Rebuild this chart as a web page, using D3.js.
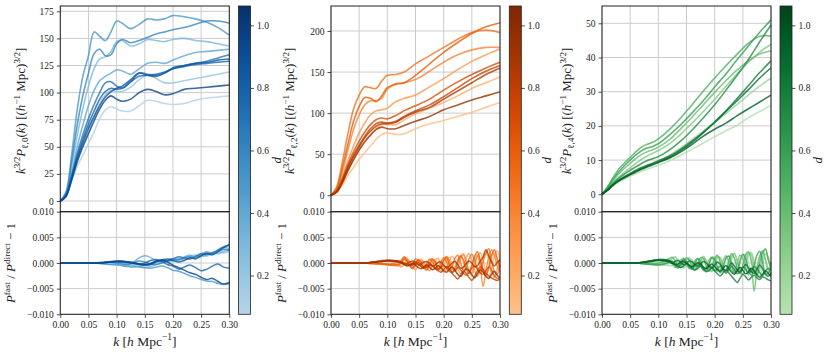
<!DOCTYPE html>
<html>
<head>
<meta charset="utf-8">
<script src="https://cdn.jsdelivr.net/npm/d3@7"></script>
<style>
  body { margin: 0; background: #fff; }
  svg { display: block; }
  text { font-family: "Liberation Serif", "DejaVu Serif", serif; fill: #222; white-space: pre; }
</style>
</head>
<body>
<script>
// ---- data ----
const dVals = [0.1, 0.2, 0.3, 0.4, 0.5, 0.6, 0.7, 0.78, 0.86, 0.95];
const cbDomain = [0.076, 1.062];
const cbTicks = [0.2, 0.4, 0.6, 0.8, 1.0];
const kTicks = [0, 0.05, 0.10, 0.15, 0.20, 0.25, 0.30];
const resTicks = [-0.010, -0.005, 0, 0.005, 0.010];

// monopole
const kTop1 = [0, .01, .02, .03, .04, .05, .06, .07, .08, .09, .10, .11, .125, .14, .155, .17, .185, .20, .22, .24, .26, .28, .30];
const top1 = [
  [0, 4, 18, 32, 42, 53, 64, 76, 84, 87, 85, 83, 83, 88, 93, 92, 90, 89, 90, 93, 95, 96, 97],
  [0, 5, 21, 38, 52, 65, 78, 90, 98, 102, 101, 101, 105, 112, 116, 113, 109, 109, 111, 113, 115, 117, 119],
  [0, 7, 32, 60, 85, 106, 122, 131, 133, 138, 147, 148, 143, 145, 149, 148, 147, 149, 150, 148, 147, 145, 143],
  [0, 6, 26, 50, 70, 88, 102, 111, 115, 118, 121, 120, 117, 122, 127, 128, 127, 130, 134, 137, 138, 139, 140],
  [0, 8, 42, 84, 115, 134, 156, 152, 148, 156, 166, 164, 159, 163, 168, 167, 168, 171, 170, 168, 165, 160, 153],
  [0, 7, 36, 70, 97, 118, 136, 140, 134, 135, 145, 149, 146, 148, 151, 154, 156, 158, 160, 163, 166, 166, 164],
  [0, 5, 23, 44, 61, 76, 89, 100, 109, 110, 106, 104, 110, 118, 117, 116, 118, 122, 125, 127, 129, 132, 135],
  [0, 5, 22, 41, 57, 71, 83, 94, 101, 104, 103, 104, 110, 115, 116, 117, 119, 122, 124, 126, 127, 128, 129],
  [0, 5, 21, 39, 54, 67, 78, 88, 96, 101, 104, 106, 112, 118, 116, 115, 118, 123, 125, 127, 128, 130, 131],
  [0, 4, 19, 36, 50, 62, 74, 85, 93, 97, 94, 92, 94, 100, 103, 101, 98, 99, 103, 104, 105, 106, 107]
];
const yTicks1 = [0, 25, 50, 75, 100, 125, 150, 175];

// quadrupole
const kTop2 = [0, .01, .02, .03, .04, .05, .06, .07, .08, .09, .10, .115, .13, .15, .175, .20, .225, .25, .275, .30];
const top2 = [
  [0, 3, 12, 24, 34, 44, 52, 60, 68, 74, 76, 74, 75, 81, 87, 91, 96, 101, 107, 113],
  [0, 4, 15, 30, 44, 56, 66, 74, 81, 86, 86, 86, 92, 99, 106, 113, 121, 130, 137, 144],
  [0, 6, 22, 42, 60, 76, 88, 98, 103, 104, 106, 114, 118, 122, 132, 142, 153, 163, 171, 178],
  [0, 7, 28, 55, 80, 98, 110, 115, 115, 118, 129, 136, 137, 141, 151, 162, 171, 177, 180, 180],
  [0, 10, 40, 75, 105, 122, 132, 131, 130, 139, 146, 147, 150, 160, 170, 180, 190, 198, 201, 198],
  [0, 8, 33, 62, 90, 108, 119, 118, 114, 121, 131, 135, 137, 146, 160, 174, 186, 197, 205, 210],
  [0, 5, 20, 38, 53, 66, 77, 86, 92, 94, 93, 97, 103, 109, 117, 128, 138, 147, 155, 162],
  [0, 5, 18, 35, 49, 61, 72, 81, 87, 89, 88, 90, 96, 103, 110, 120, 131, 142, 151, 158],
  [0, 4, 17, 33, 47, 59, 70, 78, 84, 87, 87, 89, 95, 101, 107, 117, 127, 137, 147, 155],
  [0, 4, 15, 30, 43, 55, 65, 73, 80, 83, 81, 81, 85, 90, 96, 104, 110, 116, 121, 126]
];
const yTicks2 = [0, 50, 100, 150, 200];

// hexadecapole
const kTop3 = [0, .01, .02, .03, .04, .05, .06, .07, .08, .09, .10, .12, .14, .16, .18, .20, .22, .24, .26, .28, .30];
const top3 = [
  [0, 1.2, 2.5, 3.6, 4.5, 5.3, 6.0, 6.7, 7.3, 7.9, 8.5, 9.8, 11.4, 13.2, 15.0, 16.8, 18.6, 20.2, 22.4, 24.2, 26.0],
  [0, 1.3, 2.8, 4.0, 5.0, 5.9, 6.8, 7.6, 8.3, 9.0, 9.7, 11.4, 13.6, 16.0, 18.5, 21.0, 23.6, 26.3, 29.0, 31.6, 34.0],
  [0, 1.6, 3.4, 5.0, 6.4, 7.7, 9.0, 10.2, 11.2, 12.0, 12.8, 14.8, 17.6, 20.8, 24.2, 27.8, 31.5, 35.2, 38.6, 41.6, 43.8],
  [0, 1.8, 4.0, 6.0, 7.6, 9.0, 10.4, 11.6, 12.4, 13.0, 13.8, 16.0, 19.2, 22.6, 26.2, 29.8, 33.2, 36.4, 39.0, 41.0, 42.0],
  [0, 2.2, 5.0, 7.4, 9.2, 10.8, 12.4, 13.8, 14.6, 15.2, 16.2, 19.0, 22.4, 26.2, 30.2, 34.0, 37.6, 41.0, 44.2, 46.2, 46.3],
  [0, 2.0, 4.5, 6.6, 8.4, 10.0, 11.5, 12.7, 13.5, 14.0, 14.8, 17.4, 20.4, 23.8, 27.4, 31.4, 35.2, 39.4, 43.4, 47.4, 51.0],
  [0, 1.5, 3.2, 4.7, 5.9, 7.0, 8.0, 9.0, 9.8, 10.4, 11.0, 13.0, 15.6, 18.8, 22.4, 26.2, 30.4, 34.8, 39.4, 44.6, 49.5],
  [0, 1.3, 2.9, 4.2, 5.2, 6.1, 7.0, 7.8, 8.5, 9.1, 9.8, 11.2, 13.2, 15.6, 18.2, 21.2, 24.4, 28.0, 31.8, 35.6, 39.0],
  [0, 1.2, 2.8, 4.0, 5.0, 5.9, 6.7, 7.5, 8.2, 8.8, 9.4, 10.8, 12.8, 15.2, 18.0, 21.0, 24.2, 27.4, 30.6, 34.0, 37.0],
  [0, 1.2, 2.7, 3.9, 4.8, 5.7, 6.5, 7.3, 8.0, 8.6, 9.3, 10.6, 12.4, 14.6, 17.0, 19.0, 20.8, 23.0, 25.0, 27.0, 29.0]
];
const yTicks3 = [0, 10, 20, 30, 40, 50];

// residuals, in units of 1e-3
const kRes1 = [0, .01, .02, .03, .04, .05, .06, .07, .08, .09, .10, .11, .12, .13, .14, .15, .16, .17, .18, .19, .20, .21, .22, .23, .24, .25, .26, .27, .28, .29, .30];
const res1 = [
  [0, 0, 0, 0, 0, 0, 0, 0.1, 0.2, 0.3, 0.3, 0.2, 0, -0.2, -0.3, -0.2, 0, 0.3, 0.5, 0.6, 0.9, 1.1, 1.0, 1.4, 1.6, 1.5, 1.9, 2.1, 2.0, 2.4, 2.6],
  [0, 0, 0, 0, 0, 0, 0, 0, 0.1, 0.1, 0, -0.2, -0.4, -0.5, -0.6, -0.5, -0.3, -0.1, 0.2, 0.4, 0.3, 0.6, 0.9, 0.8, 1.2, 1.5, 1.3, 1.8, 2.2, 2.0, 2.3],
  [0, 0, 0, 0, 0, 0, 0, -0.1, -0.2, -0.3, -0.4, -0.5, -0.6, -0.6, -0.8, -0.9, -0.7, -0.3, 0.1, 0.3, 0.6, 0.9, 0.7, 1.1, 1.4, 1.2, 1.6, 2.0, 1.8, 2.2, 2.6],
  [0, 0, 0, 0, 0, 0, 0, 0, 0.1, 0.2, 0.2, 0.1, -0.1, 0.2, 1.0, 1.4, 1.1, 0.4, 0.2, 0.6, 0.9, 0.7, 1.2, 1.5, 1.2, 1.8, 2.2, 1.9, 2.6, 3.0, 2.8],
  [0, 0, 0, 0, 0, 0, 0, -0.1, -0.2, -0.3, -0.3, -0.5, -0.7, -0.8, -0.7, -0.9, -1.0, -0.8, -0.6, -0.9, -1.4, -1.6, -2.0, -2.5, -2.8, -3.2, -3.5, -3.6, -4.0, -4.2, -4.0],
  [0, 0, 0, 0, 0, 0, 0, 0, 0.1, 0.1, 0, -0.2, -0.3, 0, 0.4, 0.2, -0.2, -0.3, 0, 0.4, 0.7, 0.6, 1.0, 1.2, 1.0, 1.5, 1.9, 1.7, 2.3, 2.7, 2.5],
  [0, 0, 0, 0, 0, 0, 0, 0.1, 0.2, 0.3, 0.4, 0.4, 0.2, -0.1, -0.3, -0.4, -0.2, 0.3, 0.5, 0.4, 0.8, 1.2, 1.0, 0.8, 1.3, 1.8, 1.6, 2.0, 2.5, 3.2, 3.4],
  [0, 0, 0, 0, 0, 0, 0, 0, 0.1, 0.2, 0.3, 0.2, 0.1, -0.1, -0.2, 0, 0.5, 0.7, 0.3, -0.3, -0.6, -1.2, -0.8, -0.4, -0.9, -1.5, -1.2, -0.6, -0.2, -0.8, -1.0],
  [0, 0, 0, 0, 0, 0, 0, 0, 0.1, 0.2, 0.3, 0.3, 0.2, 0.1, -0.2, -0.4, -0.3, 0.2, 0.6, 0.8, 0.5, 0.2, 0.5, 1.0, 0.8, 1.4, 1.9, 1.6, 2.2, 3.0, 3.6],
  [0, 0, 0, 0, 0, 0, 0, 0, 0.1, 0.2, 0.3, 0.3, 0.2, 0, -0.2, -0.3, -0.1, 0.4, 0.6, 0.2, -0.4, -0.9, -1.4, -1.9, -2.2, -2.8, -3.2, -3.0, -3.6, -4.1, -3.8]
];

const kRes23 = [0, .01, .02, .03, .04, .05, .06, .07, .08, .09, .10, .11, .12,
  .125, .13, .135, .14, .145, .15, .155, .16, .165, .17, .175, .18, .185, .19, .195, .20,
  .205, .21, .215, .22, .225, .23, .235, .24, .245, .25, .255, .26, .265, .27, .275, .28, .285, .29, .295, .30];
const res2 = [
  [0, 0, 0, 0, 0, 0, 0, -0.1, -0.1, -0.2, -0.3, -0.3, -0.4,
   -0.2, 0.5, 0.9, 0.2, -0.6, -0.2, 0.6, 0.3, -0.5, -1.0, -0.3, 0.4, -0.2, -1.1, -0.6, 0.3, 0.8, -0.1, -1.2, -0.8, 0.5, 1.2, 0.2, -1.3, -1.8, -0.4, 0.9, 1.6, 0.3, -1.5, -2.2, -0.8, 1.0, 1.8, 0.2, -1.2],
  [0, 0, 0, 0, 0, 0, 0, -0.1, -0.2, -0.3, -0.4, -0.5, -0.6,
   -0.4, 0.6, 1.0, 0.1, -0.9, -0.6, 0.4, 0.8, -0.2, -1.2, -0.9, 0.3, 0.6, -0.5, -1.6, -0.8, 0.7, 1.1, -0.2, -1.5, -1.0, 0.8, 1.5, 0.2, -1.7, -2.4, -0.6, 1.2, 2.0, 0.4, -1.9, -3.0, -1.0, 1.3, 2.4, 0.6],
  [0, 0, 0, 0, 0, 0, 0, -0.1, -0.2, -0.2, -0.3, -0.4, -0.5,
   -0.8, -0.3, 0.7, 0.3, -0.7, -1.3, -0.5, 0.5, 0.2, -0.9, -1.5, -0.6, 0.6, 0.9, -0.4, -1.8, -1.2, 0.4, 1.3, 0.5, -1.1, -2.1, -0.9, 1.0, 1.9, 0.4, -1.6, -2.6, -1.0, 1.1, 2.2, 0.8, -1.5, -2.8, -1.2, 0.6],
  [0, 0, 0, 0, 0, 0, 0, 0, -0.1, -0.2, -0.3, -0.3, -0.2,
   0.3, 1.1, 0.6, -0.4, -0.9, 0.1, 0.7, 0.2, -0.8, -0.5, 0.5, 0.9, 0.1, -1.0, -0.7, 0.6, 1.3, 0.4, -0.9, -1.6, -0.3, 1.2, 1.8, 0.3, -1.4, -1.9, -0.2, 1.5, -0.8, -4.6, -1.6, 1.2, 2.6, 1.4, -0.6, -1.8],
  [0, 0, 0, 0, 0, 0, 0, 0, -0.1, -0.1, -0.2, -0.1, 0.2,
   0.6, 1.2, 0.4, -0.5, -0.2, 0.8, 0.4, -0.6, -1.0, -0.1, 0.8, 0.3, -0.9, -1.3, 0.1, 1.0, 0.2, -1.1, -0.6, 0.9, 1.5, 0.1, -1.4, -0.9, 0.8, 1.7, 0.5, -1.2, -2.0, 0.2, 1.9, 2.8, 0.4, -1.6, -2.2, -0.3],
  [0, 0, 0, 0, 0, 0, 0, -0.1, -0.1, -0.2, -0.3, -0.4, -0.3,
   0.1, 0.9, 0.3, -0.6, -1.1, -0.2, 0.6, 0.1, -1.0, -1.4, -0.3, 0.7, 0.2, -1.2, -0.8, 0.5, 1.1, -0.3, -1.7, -1.1, 0.4, 1.4, 0.6, -1.2, -2.0, -0.5, 1.3, 2.2, 0.5, -1.4, -2.5, -0.9, 1.5, 2.6, 0.9, -0.8],
  [0, 0, 0, 0, 0, 0, 0, 0.1, 0.3, 0.5, 0.6, 0.5, 0.3,
   0.1, -0.2, -0.4, -0.3, 0.0, 0.2, 0.1, -0.4, -0.8, -0.6, -0.2, -0.5, -1.0, -1.3, -0.9, -0.5, -1.0, -1.6, -1.9, -1.4, -0.9, -1.3, -2.0, -2.4, -1.8, -1.0, -0.6, -1.2, -1.9, -2.2, -1.5, -0.8, -1.4, -2.4, -3.0, -2.8],
  [0, 0, 0, 0, 0, 0, 0, 0.1, 0.2, 0.4, 0.5, 0.5, 0.4,
   0.2, 0.0, -0.3, -0.5, -0.4, -0.1, -0.3, -0.7, -1.0, -0.8, -0.4, -0.6, -1.1, -1.5, -1.8, -1.3, -0.7, -1.2, -2.0, -2.6, -3.1, -2.4, -1.6, -2.0, -2.8, -3.4, -2.6, -1.5, -0.8, -1.2, -2.0, -2.5, -2.9, -3.2, -3.4, -3.1],
  [0, 0, 0, 0, 0, 0, 0, 0.1, 0.2, 0.3, 0.4, 0.3, 0.2,
   0.0, -0.2, -0.1, 0.2, 0.4, 0.1, -0.3, -0.2, 0.2, 0.3, -0.1, -0.6, -0.4, 0.1, 0.2, -0.4, -0.9, -0.6, 0.0, 0.3, -0.3, -1.0, -0.8, -0.1, 0.4, 0.0, -0.7, -0.5, 0.4, 1.2, 2.6, 1.4, 0.2, -0.6, 0.1, 0.6],
  [0, 0, 0, 0, 0, 0, 0, 0.1, 0.2, 0.3, 0.4, 0.4, 0.3,
   0.1, -0.3, -0.6, -0.4, -0.1, -0.4, -0.9, -1.1, -0.7, -0.4, -0.8, -1.3, -1.0, -0.5, -0.9, -1.5, -1.8, -1.2, -0.8, -1.4, -2.2, -2.6, -1.9, -1.1, -1.5, -2.3, -2.9, -2.1, -1.3, -1.8, -2.6, -3.0, -2.2, -1.6, -2.4, -2.9]
];
const res3 = [
  [0, 0, 0, 0, 0, 0, 0, -0.1, -0.2, -0.2, -0.3, -0.3, -0.1,
   0.4, -0.3, -0.9, -0.2, 0.7, 0.4, -0.6, -1.1, -0.2, 0.8, 0.5, -0.7, -1.4, -0.4, 0.9, 1.2, -0.1, -1.5, -1.0, 0.6, 1.4, 0.3, -1.3, -2.0, -0.4, 1.3, 1.8, 0.2, -1.7, -2.4, -0.6, 1.4, 2.0, 0.3, -1.6, -0.9],
  [0, 0, 0, 0, 0, 0, 0, -0.1, -0.2, -0.3, -0.4, -0.4, -0.5,
   -0.5, 0.4, 0.8, -0.1, -1.0, -0.4, 0.7, 0.6, -0.6, -1.3, -0.3, 0.8, 0.5, -0.9, -1.7, -0.4, 1.0, 1.1, -0.6, -1.9, -1.2, 0.7, 1.7, 0.5, -1.4, -2.3, -0.6, 1.5, 2.1, 0.2, -2.0, -2.6, -0.3, 1.8, 1.2, -0.4],
  [0, 0, 0, 0, 0, 0, 0, 0, -0.1, -0.2, -0.2, 0.1, 0.5,
   0.9, 1.2, 0.2, -0.8, -0.5, 0.6, 1.0, -0.1, -1.2, -0.9, 0.4, 1.3, 0.4, -1.1, -1.5, -0.1, 1.2, 0.8, -0.8, -2.0, -0.6, 1.3, 1.9, 0.3, -1.6, -2.2, 0.0, 1.9, 1.6, -0.7, -2.4, -1.3, 1.2, 2.7, 1.0, -1.1],
  [0, 0, 0, 0, 0, 0, 0, -0.1, -0.2, -0.3, -0.3, -0.2, 0.1,
   -0.2, -0.9, -0.4, 0.6, 0.9, -0.2, -1.1, -0.6, 0.5, 0.8, -0.4, -1.5, -0.9, 0.6, 1.1, -0.1, -1.6, -1.3, 0.5, 1.4, 0.2, -1.5, -2.1, -0.2, 1.5, 1.0, -0.9, -2.3, -1.0, -5.5, -1.4, 1.3, 2.4, 0.8, -1.2, -2.0],
  [0, 0, 0, 0, 0, 0, 0, 0, -0.1, -0.1, 0, 0.4, 0.9,
   1.1, 0.3, -0.6, -0.9, 0.2, 1.0, 0.5, -0.8, -1.3, -0.2, 1.0, 0.9, -0.6, -1.6, -0.8, 0.9, 1.5, 0.1, -1.6, -1.4, 0.5, 1.8, 0.9, -1.0, -2.1, -0.5, 1.6, 2.2, 0.4, -1.8, -2.3, 0.1, 2.0, 2.8, 0.6, -1.0],
  [0, 0, 0, 0, 0, 0, 0, -0.1, -0.2, -0.3, -0.4, -0.2, 0.2,
   0.3, -0.5, -1.0, 0.1, 0.8, 0.2, -0.9, -1.2, 0.0, 0.9, 0.3, -1.1, -1.6, -0.2, 1.1, 0.7, -0.9, -1.9, -0.8, 1.0, 1.3, -0.3, -1.8, -1.5, 0.4, 1.7, 0.8, -1.3, -2.4, -0.6, 1.5, 2.3, 0.2, -1.9, -2.1, 0.2],
  [0, 0, 0, 0, 0, 0, 0, 0.1, 0.2, 0.4, 0.6, 0.6, 0.4,
   0.0, -0.4, -0.7, -0.3, 0.2, 0.0, -0.6, -1.0, -0.6, -0.1, -0.5, -1.2, -1.0, -0.4, -0.9, -1.5, -1.1, -0.6, -1.2, -1.9, -1.4, -0.7, -1.3, -2.1, -1.6, -0.8, -1.2, -2.0, -1.5, -0.7, -1.1, -1.9, -2.4, -1.6, -1.0, -1.4],
  [0, 0, 0, 0, 0, 0, 0, 0.1, 0.3, 0.5, 0.7, 0.7, 0.5,
   0.2, -0.2, -0.6, -0.9, -0.6, -0.2, -0.5, -1.1, -1.4, -1.0, -0.6, -1.2, -1.7, -1.4, -0.9, -1.5, -2.1, -2.5, -1.9, -1.3, -1.9, -2.6, -3.2, -3.8, -3.0, -2.2, -2.7, -3.3, -2.8, -2.4, -2.9, -3.2, -2.7, -2.9, -3.3, -3.5],
  [0, 0, 0, 0, 0, 0, 0, 0.1, 0.2, 0.3, 0.5, 0.4, 0.2,
   -0.1, 0.3, 0.5, 0.1, -0.3, 0.0, 0.4, 0.2, -0.3, -0.6, -0.2, 0.3, 0.0, -0.6, -1.0, -0.4, 0.2, -0.3, -1.1, -1.5, -0.8, 0.0, -0.6, -1.4, -1.8, -1.0, -0.3, -0.9, -1.7, -2.0, -1.2, -0.4, -1.1, -2.2, -2.6, -2.0],
  [0, 0, 0, 0, 0, 0, 0, 0.1, 0.3, 0.5, 0.6, 0.5, 0.3,
   0.0, -0.3, -0.2, 0.2, 0.4, 0.0, -0.4, -0.7, -0.3, 0.1, -0.2, -0.8, -1.1, -0.6, -0.2, -0.7, -1.3, -1.6, -1.0, -0.5, -1.1, -1.8, -2.2, -1.5, -0.9, -1.4, -2.1, -1.7, -1.0, -1.5, -2.3, -2.8, -2.2, -1.5, -2.0, -2.6]
];

// ---- layout ----
const W = 831, H = 355;
const rowTop = [6, 211.7], rowBot = [211.7, 314.3];
const axW = 169, cbW = 12;

const panels = [
  {left: 60.3, cbx: 238.5, kTop: kTop1, top: top1, yDom: [-9.87, 179.9], yTicks: yTicks1, ell: "0",
   kRes: kRes1, res: res1, interp: d3.interpolateBlues, ylabDx: -35, rlabDx: -45},
  {left: 331, cbx: 509.3, kTop: kTop2, top: top2, yDom: [-20, 230.4], yTicks: yTicks2, ell: "2",
   kRes: kRes23, res: res2, interp: d3.interpolateOranges, ylabDx: -37, rlabDx: -45},
  {left: 602, cbx: 780, kTop: kTop3, top: top3, yDom: [-5.1, 55.06], yTicks: yTicks3, ell: "4",
   kRes: kRes23, res: res3, interp: d3.interpolateGreens, ylabDx: -31, rlabDx: -45}
];

const svg = d3.select("body").append("svg").attr("width", W).attr("height", H);
const gridColor = "#cccccc", axisColor = "#222";
const tickFs = 9.5, labFs = 13;

function richText(sel, segs, fs) {
  let cur = 0;
  segs.forEach(s => {
    const p = s.p || 0;
    const target = p === 1 ? -0.42 * fs : p === -1 ? 0.22 * fs : 0;
    sel.append("tspan")
      .attr("dy", (target - cur).toFixed(2))
      .attr("font-size", p ? fs * 0.7 : fs)
      .attr("font-style", s.i ? "italic" : "normal")
      .text(s.t);
    cur = target;
  });
}

function vlabel(x, y, segs, fs) {
  const t = svg.append("text")
    .attr("transform", `translate(${x},${y}) rotate(-90)`)
    .attr("text-anchor", "middle");
  richText(t, segs, fs);
}

panels.forEach(P => {
  const x = d3.scaleLinear().domain([0, 0.30]).range([P.left, P.left + axW]);
  const yT = d3.scaleLinear().domain(P.yDom).range([rowTop[1], rowTop[0]]);
  const yR = d3.scaleLinear().domain([-0.010, 0.010]).range([rowBot[1], rowBot[0]]);
  const color = d => P.interp(0.3 + 0.7 * (d - cbDomain[0]) / (cbDomain[1] - cbDomain[0]));

  // grids
  [[yT, P.yTicks, rowTop], [yR, resTicks, rowBot]].forEach(([ys, ticks, row]) => {
    const g = svg.append("g");
    g.selectAll("line.v").data(kTicks).join("line")
      .attr("x1", d => x(d)).attr("x2", d => x(d))
      .attr("y1", row[0]).attr("y2", row[1])
      .attr("stroke", gridColor).attr("stroke-width", 1);
    g.selectAll("line.h").data(ticks).join("line")
      .attr("x1", P.left).attr("x2", P.left + axW)
      .attr("y1", d => ys(d)).attr("y2", d => ys(d))
      .attr("stroke", gridColor).attr("stroke-width", 1);
  });

  // curves
  const line = d3.line().curve(d3.curveCatmullRom.alpha(0.5));
  P.top.forEach((vals, i) => {
    svg.append("path")
      .attr("d", line(vals.map((v, j) => [x(P.kTop[j]), yT(v)])))
      .attr("fill", "none").attr("stroke", color(dVals[i])).attr("stroke-width", 1.6)
      .attr("stroke-opacity", 0.8).attr("stroke-linejoin", "round");
  });
  P.res.forEach((vals, i) => {
    svg.append("path")
      .attr("d", line(vals.map((v, j) => [x(P.kRes[j]), yR(v * 1e-3)])))
      .attr("fill", "none").attr("stroke", color(dVals[i])).attr("stroke-width", 1.5)
      .attr("stroke-opacity", 0.8).attr("stroke-linejoin", "round");
  });

  // axes
  svg.append("g").attr("transform", `translate(${P.left},0)`)
    .call(d3.axisLeft(yT).tickValues(P.yTicks).tickSize(3.5).tickPadding(3).tickFormat(d3.format("d")))
    .call(g => g.select(".domain").remove());
  svg.append("g").attr("transform", `translate(${P.left},0)`)
    .call(d3.axisLeft(yR).tickValues(resTicks).tickSize(3.5).tickPadding(3)
      .tickFormat(d => d3.format(".3f")(d).replace("-", "−")))
    .call(g => g.select(".domain").remove());
  svg.append("g").attr("transform", `translate(0,${rowBot[1]})`)
    .call(d3.axisBottom(x).tickValues(kTicks).tickSize(3.5).tickPadding(3).tickFormat(d3.format(".2f")))
    .call(g => g.select(".domain").remove());

  // frames
  [rowTop, rowBot].forEach(row => {
    svg.append("rect").attr("x", P.left).attr("y", row[0])
      .attr("width", axW).attr("height", row[1] - row[0])
      .attr("fill", "none").attr("stroke", axisColor).attr("stroke-width", 1);
  });

  // colorbar
  const gid = "grad" + P.ell;
  const grad = svg.append("defs").append("linearGradient").attr("id", gid)
    .attr("x1", 0).attr("y1", 1).attr("x2", 0).attr("y2", 0);
  d3.range(0, 1.0001, 0.05).forEach(t => {
    grad.append("stop").attr("offset", t)
      .attr("stop-color", P.interp(0.3 + 0.7 * t));
  });
  const cbY = d3.scaleLinear().domain(cbDomain).range([rowBot[1], rowTop[0]]);
  svg.append("rect").attr("x", P.cbx).attr("y", rowTop[0])
    .attr("width", cbW).attr("height", rowBot[1] - rowTop[0])
    .attr("fill", `url(#${gid})`).attr("stroke", axisColor).attr("stroke-width", 0.8);
  svg.append("g").attr("transform", `translate(${P.cbx + cbW},0)`)
    .call(d3.axisRight(cbY).tickValues(cbTicks).tickSize(3.5).tickPadding(3).tickFormat(d3.format(".1f")))
    .call(g => g.select(".domain").remove());
  svg.append("text")
    .attr("transform", `translate(${P.cbx + cbW + 30},${(rowTop[0] + rowBot[1]) / 2}) rotate(-90)`)
    .attr("text-anchor", "middle").attr("font-size", 13).attr("font-style", "italic").text("d");

  // labels
  vlabel(P.left + P.ylabDx, (rowTop[0] + rowTop[1]) / 2 + 2, [
    {t: "k", i: 1}, {t: "3/2", p: 1}, {t: "P", i: 1}, {t: "ℓ," + P.ell, p: -1}, {t: "("}, {t: "k", i: 1},
    {t: ") [("}, {t: "h", i: 1}, {t: "−1", p: 1}, {t: " Mpc)"}, {t: "3/2", p: 1}, {t: "]"}
  ], labFs);
  vlabel(P.left + P.rlabDx, (rowBot[0] + rowBot[1]) / 2, [
    {t: "P", i: 1}, {t: "fast", p: 1}, {t: " / "}, {t: "P", i: 1}, {t: "direct", p: 1}, {t: " − 1"}
  ], labFs);
  const xl = svg.append("text")
    .attr("x", P.left + axW / 2).attr("y", 346).attr("text-anchor", "middle");
  richText(xl, [{t: "k", i: 1}, {t: " ["}, {t: "h", i: 1}, {t: " Mpc"}, {t: "−1", p: 1}, {t: "]"}], 13.5);
});

svg.selectAll(".tick text").attr("font-size", tickFs).attr("font-family", "Liberation Serif, DejaVu Serif, serif").attr("fill", "#222");
svg.selectAll(".tick line").attr("stroke", axisColor).attr("stroke-width", 0.8);
</script>
</body>
</html>
